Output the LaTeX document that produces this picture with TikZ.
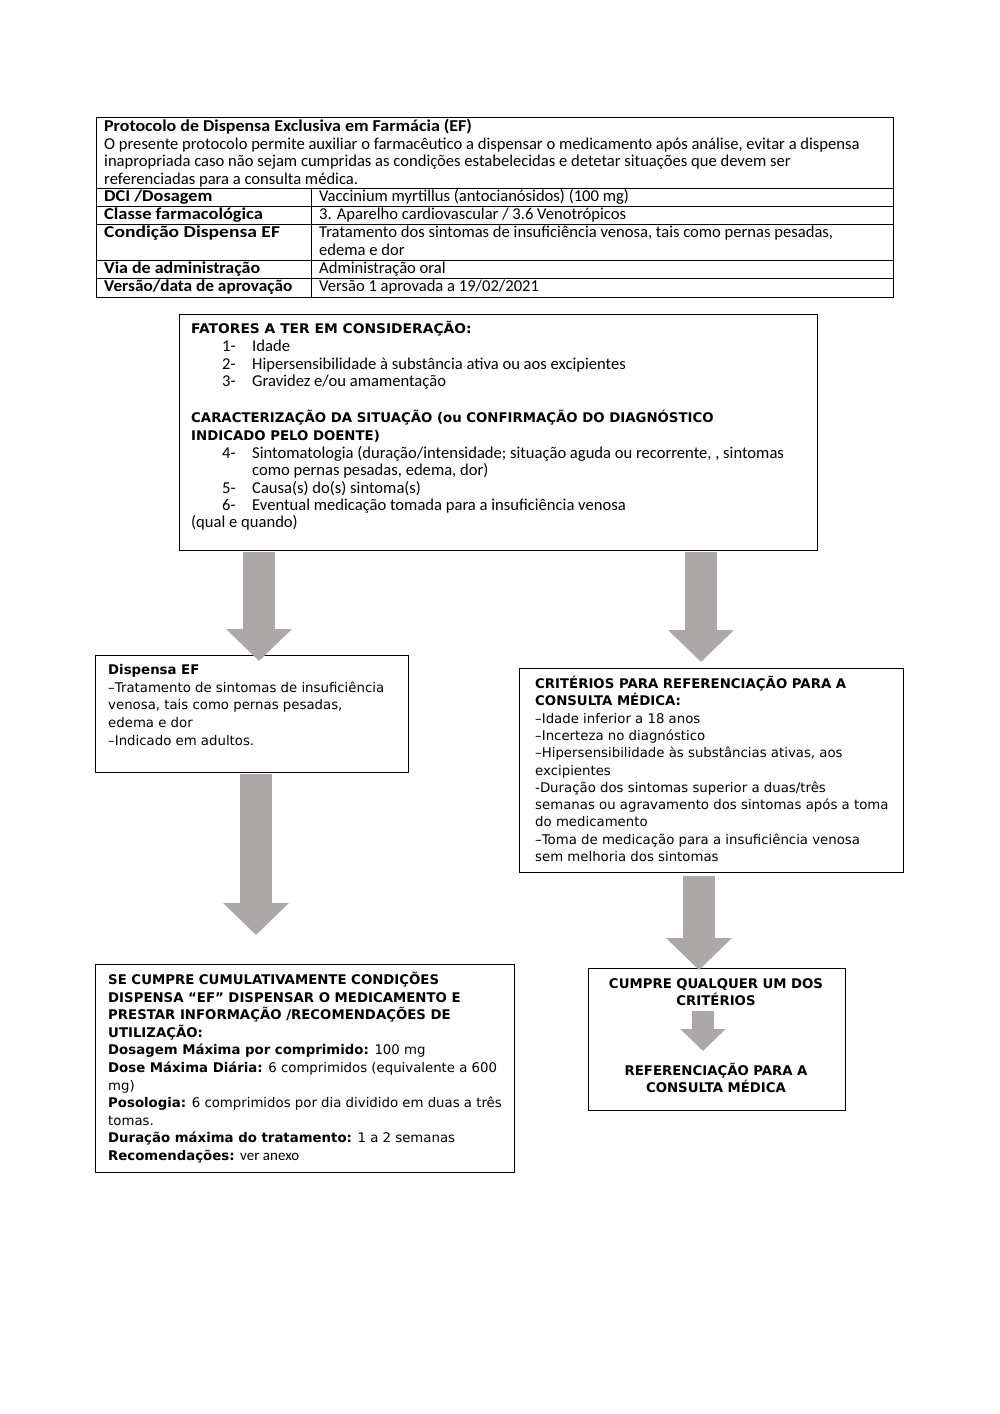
\documentclass[tikz,border=0pt]{standalone}
\usepackage{graphicx}
\usepackage{fontspec}
\setmainfont{Carlito}
\newfontfamily\boxf{DejaVu Sans}
\usetikzlibrary{arrows.meta}
\definecolor{arrowgray}{RGB}{172,168,168}
\tikzset{
  tabfont/.style={font=\fontsize{16.6}{17.5}\selectfont},
  tabtxt/.style={anchor=base west, inner sep=0pt, tabfont},
  blocktxt/.style={anchor=base west, inner sep=0pt, text width=#1, align=flush left},
  bxfont/.style={font=\boxf\fontsize{13.3}{#1}\selectfont},
  framebox/.style={draw=black, line width=1.2pt, inner sep=0pt, anchor=north west},
  tabline/.style={draw=black, line width=1pt},
  blockarrow/.style={draw=arrowgray, line width=32pt, -{Triangle[width=64pt,length=32pt]}},
  smallarrow/.style={draw=arrowgray, line width=22pt, -{Triangle[width=44pt,length=22pt]}},
}
\newcommand{\itm}[1]{\makebox[30pt][l]{#1}}
\newcommand{\lbl}[2][1.1]{\scalebox{#1}[1]{\textbf{#2}}}
\begin{document}
\setlength{\lineskiplimit}{-30pt}
\begin{tikzpicture}[x=1pt,y=-1pt]
\useasboundingbox[fill=white] (0,0) rectangle (1000,1414);

% ---------- table ----------
\draw[tabline] (96,117) rectangle (893,297);
\foreach \yy in {188,206,224,260,278} \draw[tabline] (96,\yy) -- (893,\yy);
\draw[tabline] (311,188) -- (311,297);

\node[blocktxt=790pt, tabfont] (hdr) at (104,131.5)
 {\lbl[1.08]{Protocolo de Dispensa Exclusiva em Farmácia (EF)}\\
  O presente protocolo permite auxiliar o farmacêutico a dispensar o medicamento após análise, evitar a dispensa\\
  inapropriada caso não sejam cumpridas as condições estabelecidas e detetar situações que devem ser\\
  referenciadas para a consulta médica.};

\node[tabtxt] (l1) at (104,201.5) {\lbl[1.10]{DCI /Dosagem}};
\node[tabtxt] (l2) at (104,219.5) {\lbl[1.11]{Classe farmacológica}};
\node[tabtxt] (l3) at (104,237.5) {\lbl[1.18]{Condição Dispensa EF}};
\node[tabtxt] (l4) at (104,273.5) {\lbl[1.08]{Via de administração}};
\node[tabtxt] (l5) at (104,291.5) {\lbl[1.04]{Versão/data de aprovação}};
\node[tabtxt] (r1) at (319,201.5) {Vaccinium myrtillus (antocianósidos) (100 mg)};
\node[tabtxt] (r2) at (319,219.5) {3. Aparelho cardiovascular / 3.6 Venotrópicos};
\node[blocktxt=570pt, tabfont] (r3) at (319,237.5) {Tratamento dos sintomas de insuficiência venosa, tais como pernas pesadas,\\edema e dor};
\node[tabtxt] (r4) at (319,273.5) {Administração oral};
\node[tabtxt] (r5) at (319,291.5) {Versão 1 aprovada a 19/02/2021};

% ---------- box: fatores ----------
\node[framebox, minimum width=638pt, minimum height=236pt] (fat) at (179,314) {};
\node[blocktxt=620pt, bxfont=17.5] (fath1) at (191,333.5) {\scalebox{1.04}[1]{\textbf{FATORES A TER EM CONSIDERAÇÃO:}}};
\node[blocktxt=590pt, tabfont] (fatl1) at (222,351.5)
 {\itm{1-}Idade\\
  \itm{2-}Hipersensibilidade à substância ativa ou aos excipientes\\
  \itm{3-}Gravidez e/ou amamentação};
\node[blocktxt=620pt, bxfont=17.5] (fath2) at (191,422.5)
 {\textbf{CARACTERIZAÇÃO DA SITUAÇÃO (ou CONFIRMAÇÃO DO DIAGNÓSTICO}\\
  \textbf{INDICADO PELO DOENTE)}};
\node[blocktxt=590pt, font=\fontsize{16.6}{17.3}\selectfont] (fatl2) at (222,458.5)
 {\itm{4-}Sintomatologia (duração/intensidade; situação aguda ou recorrente, , sintomas\\
  \hspace*{30pt}como pernas pesadas, edema, dor)\\
  \itm{5-}Causa(s) do(s) sintoma(s)\\
  \itm{6-}Eventual medicação tomada para a insuficiência venosa};
\node[tabtxt] (fatq) at (191,527.5) {(qual e quando)};

% ---------- box: dispensa EF ----------
\node[framebox, minimum width=313pt, minimum height=117pt] (disp) at (95,655) {};
\node[blocktxt=300pt, bxfont=17.7] (dispt) at (108,674.5)
 {\textbf{Dispensa EF}\\
  –Tratamento de sintomas de insuficiência\\
  venosa, tais como pernas pesadas,\\
  edema e dor\\
  –Indicado em adultos.};

% ---------- box: criterios ----------
\node[framebox, minimum width=384pt, minimum height=204pt] (crit) at (519,668) {};
\node[blocktxt=370pt, bxfont=17.3] (critt) at (535,688.5)
 {\textbf{CRITÉRIOS PARA REFERENCIAÇÃO PARA A}\\
  \textbf{CONSULTA MÉDICA:}\\
  –Idade inferior a 18 anos\\
  –Incerteza no diagnóstico\\
  –Hipersensibilidade às substâncias ativas, aos\\
  excipientes\\
  -Duração dos sintomas superior a duas/três\\
  semanas ou agravamento dos sintomas após a toma\\
  do medicamento\\
  –Toma de medicação para a insuficiência venosa\\
  sem melhoria dos sintomas};

% ---------- box: se cumpre ----------
\node[framebox, minimum width=419pt, minimum height=208pt] (secum) at (95,964) {};
\node[blocktxt=410pt, bxfont=17.6] (secumt) at (108,984.5)
 {\textbf{SE CUMPRE CUMULATIVAMENTE CONDIÇÕES}\\
  \textbf{DISPENSA “EF” DISPENSAR O MEDICAMENTO E}\\
  \textbf{PRESTAR INFORMAÇÃO /RECOMENDAÇÕES DE}\\
  \textbf{UTILIZAÇÃO:}\\
  \textbf{Dosagem Máxima por comprimido:} 100 mg\\
  \textbf{Dose Máxima Diária:} 6 comprimidos (equivalente a 600\\
  mg)\\
  \textbf{Posologia:} 6 comprimidos por dia dividido em duas a três\\
  tomas.\\
  \textbf{Duração máxima do tratamento:} 1 a 2 semanas\\
  \textbf{Recomendações:} {\rmfamily\fontsize{15}{17.6}\selectfont ver anexo}};

% ---------- box: cumpre ----------
\node[framebox, minimum width=257pt, minimum height=142pt] (cump) at (588,968) {};
\node[anchor=base, inner sep=0pt, text width=250pt, align=center, bxfont=17.3] (cumpt) at (716,988.5)
 {\textbf{CUMPRE QUALQUER UM DOS}\\\textbf{CRITÉRIOS}};
\node[anchor=base, inner sep=0pt, text width=250pt, align=center, bxfont=17.3] (reft) at (716,1075.5)
 {\textbf{REFERENCIAÇÃO PARA A}\\\textbf{CONSULTA MÉDICA}};

% ---------- arrows ----------
\coordinate (a1s) at (259,552);  \coordinate (a1e) at (259,661);
\coordinate (a2s) at (701,552);  \coordinate (a2e) at (701,662);
\coordinate (a3s) at (256,774);  \coordinate (a3e) at (256,935);
\coordinate (a4s) at (699,876);  \coordinate (a4e) at (699,970);
\coordinate (a5s) at (703,1011); \coordinate (a5e) at (703,1051);
\draw[blockarrow] (a1s) -- (a1e);
\draw[blockarrow] (a2s) -- (a2e);
\draw[blockarrow] (a3s) -- (a3e);
\draw[blockarrow] (a4s) -- (a4e);
\draw[smallarrow] (a5s) -- (a5e);
\end{tikzpicture}
\end{document}
